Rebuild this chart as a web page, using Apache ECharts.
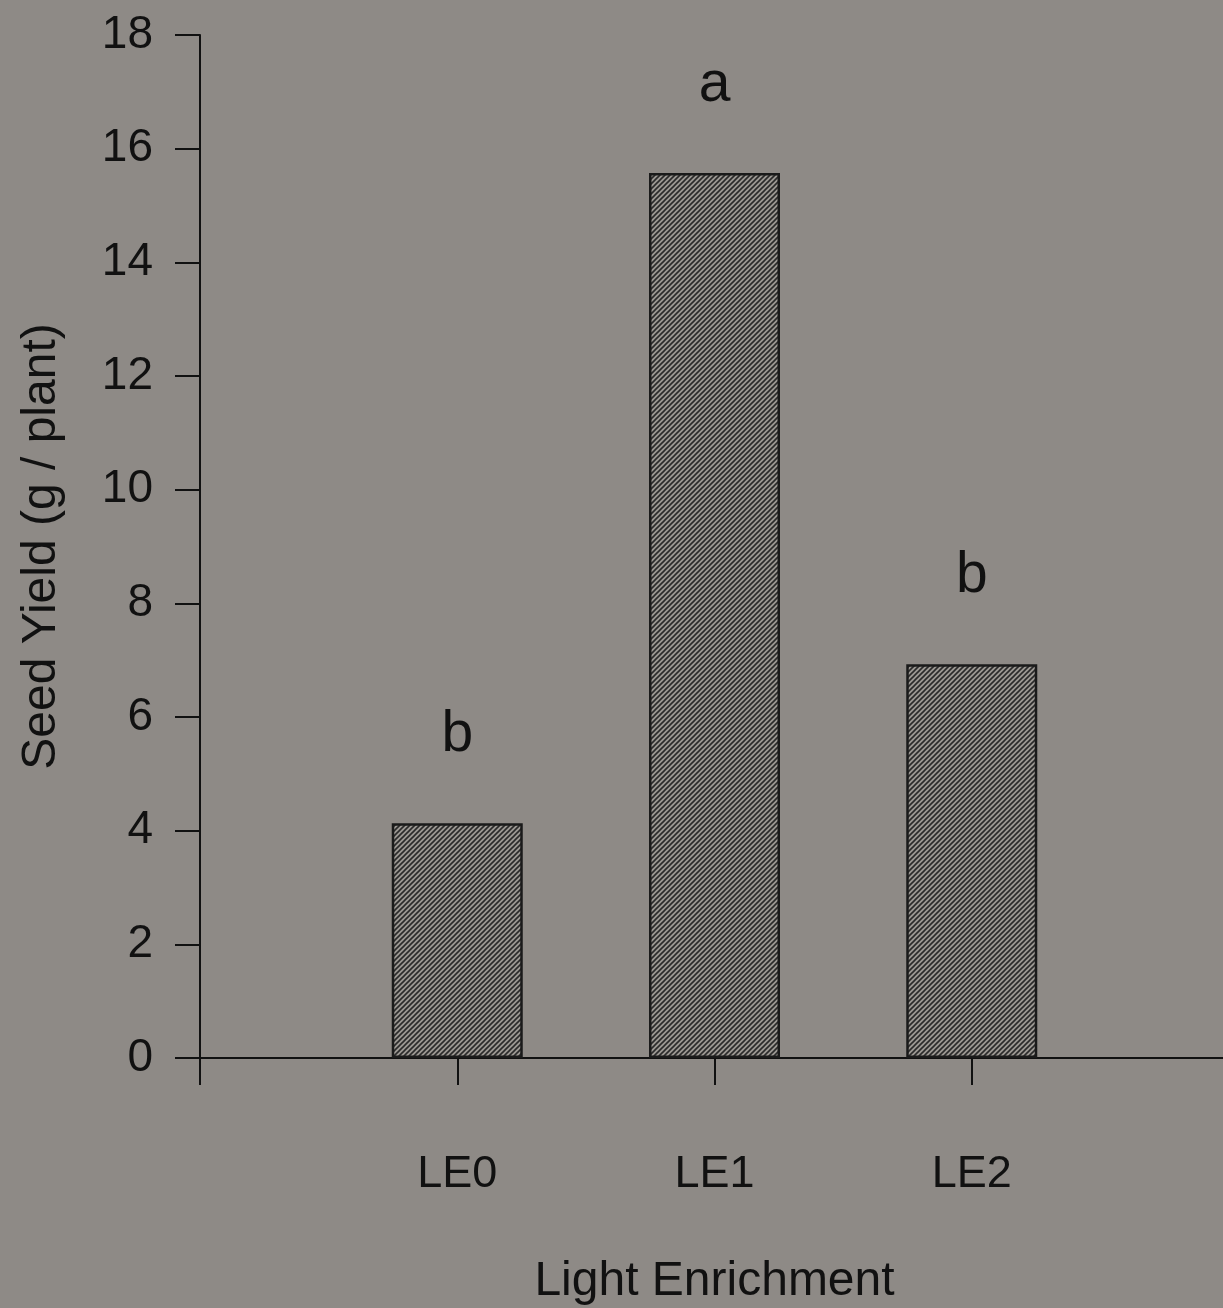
<!DOCTYPE html>
<html>
<head>
<meta charset="utf-8">
<script src="https://cdn.jsdelivr.net/npm/echarts@6/dist/echarts.min.js"></script>
<style>
html,body{margin:0;padding:0;background:#8e8a86;}
#chart{width:1223px;height:1308px;}
</style>
</head>
<body>
<div id="chart"></div>
<script>
const categories = ['LE0', 'LE1', 'LE2'];
const seedYield = [4.13, 15.57, 6.93];
const letters = ['b', 'a', 'b'];
const yTicks = [0, 2, 4, 6, 8, 10, 12, 14, 16, 18];

function makePattern() {
  const c = document.createElement('canvas');
  const s = 5;
  c.width = s; c.height = s;
  const ctx = c.getContext('2d');
  ctx.fillStyle = '#9c9893';
  ctx.fillRect(0, 0, s, s);
  ctx.strokeStyle = '#2a2a2a';
  ctx.lineWidth = 1.6;
  ctx.beginPath();
  ctx.moveTo(-1, s + 1); ctx.lineTo(s + 1, -1);
  ctx.moveTo(-1, 1); ctx.lineTo(1, -1);
  ctx.moveTo(s - 1, s + 1); ctx.lineTo(s + 1, s - 1);
  ctx.stroke();
  return c;
}

const chart = echarts.init(document.getElementById('chart'), null, {renderer: 'canvas'});
const font = '"Liberation Sans", Arial, sans-serif';
const ink = '#111111';

chart.setOption({
  backgroundColor: '#8e8a86',
  animation: false,
  grid: {left: 200, right: -6, top: 35, bottom: 250, containLabel: false, outerBoundsMode: 'none'},
  xAxis: {
    type: 'value',
    min: 0, max: 4, interval: 1,
    name: 'Light Enrichment',
    nameLocation: 'middle',
    nameGap: 200,
    nameTextStyle: {fontFamily: font, fontSize: 48, color: ink},
    axisLine: {show: true, lineStyle: {color: ink, width: 2}},
    axisTick: {show: true, inside: false, length: 27, lineStyle: {color: ink, width: 2}},
    axisLabel: {
      show: true, margin: 94, fontFamily: font, fontSize: 45, color: ink,
      formatter: v => (Number.isInteger(v) && v >= 1 && v <= categories.length) ? categories[v - 1] : ''
    },
    splitLine: {show: false}
  },
  yAxis: {
    type: 'value',
    min: 0, max: 18, interval: 2,
    name: 'Seed Yield (g / plant)',
    nameLocation: 'middle',
    nameGap: 134,
    nameTextStyle: {fontFamily: font, fontSize: 48, color: ink},
    axisLine: {show: true, lineStyle: {color: ink, width: 2}},
    axisTick: {show: true, inside: false, length: 25, lineStyle: {color: ink, width: 2}},
    axisLabel: {
      show: true, margin: 47, fontFamily: font, fontSize: 46, color: ink,
      formatter: v => yTicks.includes(v) ? String(v) : ''
    },
    splitLine: {show: false}
  },
  series: [{
    type: 'bar',
    barWidth: 131,
    data: categories.map((c, i) => [i + 1, seedYield[i]]),
    itemStyle: {
      color: {image: makePattern(), repeat: 'repeat'},
      borderColor: '#1a1a1a',
      borderWidth: 2.5
    },
    label: {
      show: true,
      position: 'top',
      distance: 59,
      fontFamily: font,
      fontSize: 57,
      color: ink,
      formatter: p => letters[p.dataIndex]
    }
  }]
});
</script>
</body>
</html>
